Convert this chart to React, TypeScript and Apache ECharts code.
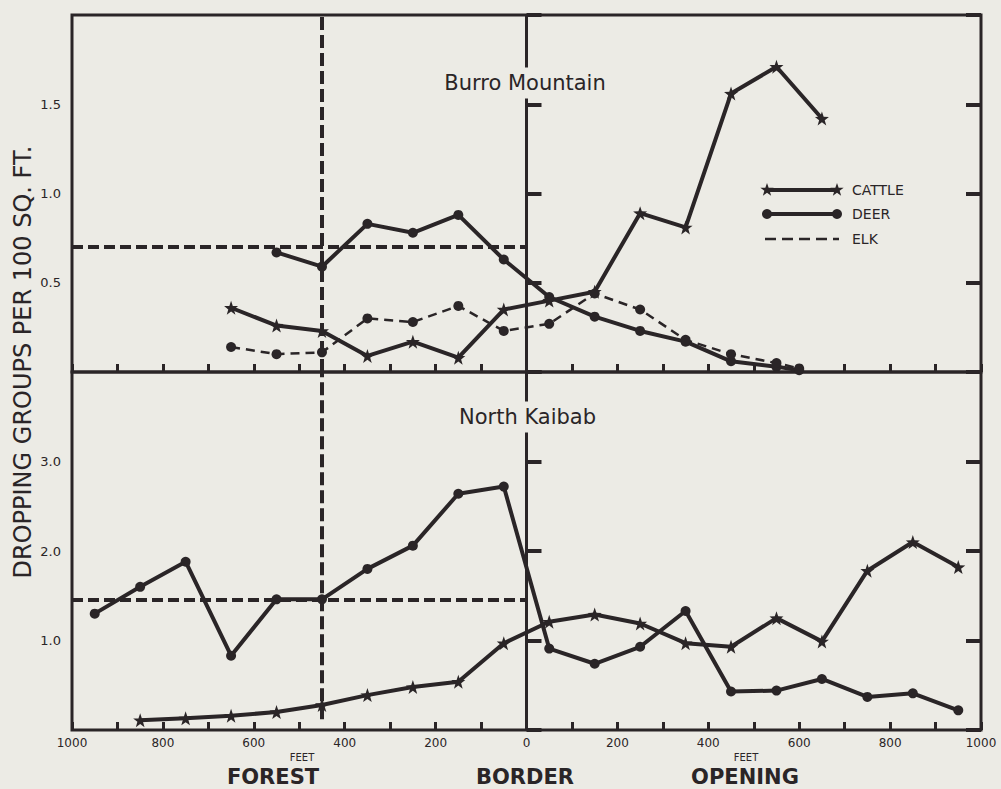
import React, { useEffect, useRef } from "react";
import * as echarts from "echarts";

// ---- data (feet from border: negative = forest, positive = opening) ----
const topCattleX = [-650, -550, -450, -350, -250, -150, -50, 50, 150, 250, 350, 450, 550, 650];
const topCattleY = [0.36, 0.26, 0.23, 0.09, 0.17, 0.08, 0.35, 0.4, 0.45, 0.89, 0.81, 1.56, 1.71, 1.42];

const topDeerX = [-550, -450, -350, -250, -150, -50, 50, 150, 250, 350, 450, 550, 600];
const topDeerY = [0.67, 0.59, 0.83, 0.78, 0.88, 0.63, 0.42, 0.31, 0.23, 0.17, 0.06, 0.03, 0.01];

const topElkX = [-650, -550, -450, -350, -250, -150, -50, 50, 150, 250, 350, 450, 550, 600];
const topElkY = [0.14, 0.1, 0.11, 0.3, 0.28, 0.37, 0.23, 0.27, 0.44, 0.35, 0.18, 0.1, 0.05, 0.02];

const botDeerX = [-950, -850, -750, -650, -550, -450, -350, -250, -150, -50, 50, 150, 250, 350, 450, 550, 650, 750, 850, 950];
const botDeerY = [1.3, 1.6, 1.88, 0.83, 1.46, 1.46, 1.8, 2.06, 2.64, 2.72, 0.91, 0.74, 0.93, 1.33, 0.43, 0.44, 0.57, 0.37, 0.41, 0.22];

const botCattleX = [-850, -750, -650, -550, -450, -350, -250, -150, -50, 50, 150, 250, 350, 450, 550, 650, 750, 850, 950];
const botCattleY = [0.11, 0.13, 0.16, 0.2, 0.28, 0.39, 0.48, 0.54, 0.97, 1.21, 1.29, 1.19, 0.97, 0.93, 1.25, 0.99, 1.78, 2.1, 1.82];

const borderX = 0;
const forestEdgeX = -450;
const forestMeanTop = 0.7;
const forestMeanBottom = 1.45;
const forestEdgeBottomEnd = 0.12;

const xTickLabels = ["1000", "800", "600", "400", "200", "0", "200", "400", "600", "800", "1000"];
const topYLabels = ["0.5", "1.0", "1.5"];
const botYLabels = ["1.0", "2.0", "3.0"];

const INK = "#2a2527";
const BG = "#ecebe5";
const STAR =
  "path://M100 0 L123.5 67.6 L195.1 69.1 L138 112.4 L158.8 180.9 L100 140 L41.2 180.9 L62 112.4 L4.9 69.1 L76.5 67.6 Z";

const zip = (xs: number[], ys: number[]) => xs.map((x, i) => [x, ys[i]]);

function starPoints(cx: number, cy: number, r: number) {
  const pts: number[][] = [];
  for (let k = 0; k < 10; k++) {
    const a = -Math.PI / 2 + (k * Math.PI) / 5;
    const rr = k % 2 === 0 ? r : r * 0.4;
    pts.push([cx + rr * Math.cos(a), cy + rr * Math.sin(a)]);
  }
  return pts;
}

export default function App() {
  const ref = useRef<HTMLDivElement>(null);
  useEffect(() => {
    document.body.style.margin = "0";
    document.body.style.background = BG;
    const chart = echarts.init(ref.current!, null, { renderer: "svg" });

    const xFmt = (v: number) => {
      if (Math.round(v) % 200 !== 0) return "";
      const idx = Math.round((v + 1000) / 200);
      return xTickLabels[idx] ?? "";
    };
    const yFmt = (labels: string[], step: number) => (v: number) => {
      const i = Math.round(v / step) - 1;
      return i >= 0 && i < labels.length && Math.abs(v / step - Math.round(v / step)) < 1e-6 ? labels[i] : "";
    };

    const xBase = (gi: number, showLabels: boolean) => ({
      type: "value",
      gridIndex: gi,
      min: -1000,
      max: 1000,
      interval: 100,
      axisLine: { show: false },
      splitLine: { show: false },
      axisTick: { show: true, inside: true, length: 8, lineStyle: { color: INK, width: 3 } },
      axisLabel: {
        show: showLabels,
        formatter: xFmt,
        color: INK,
        fontFamily: "DejaVu Sans",
        fontSize: 12,
        margin: 7,
        showMinLabel: true,
        showMaxLabel: true,
      },
    });
    const yBase = (gi: number, max: number, interval: number, pos: string, labels: string[] | null) => ({
      type: "value",
      gridIndex: gi,
      position: pos,
      min: 0,
      max,
      interval,
      axisLine: { show: false },
      splitLine: { show: false },
      axisTick: { show: true, inside: true, length: 15, lineStyle: { color: INK, width: 4 } },
      axisLabel: {
        show: !!labels,
        formatter: labels ? yFmt(labels, interval) : undefined,
        color: INK,
        fontFamily: "DejaVu Sans",
        fontSize: 13,
        margin: 11,
      },
    });

    const solid = (w: number) => ({ color: INK, width: w, type: "solid" });

    const markLines = (meanY: number, edgeFrom: number | null) => ({
      silent: true,
      symbol: ["none", "none"],
      label: { show: false },
      lineStyle: { color: INK, width: 3, type: "solid" },
      data: [
        { xAxis: borderX, lineStyle: { color: INK, width: 3, type: "solid" } },
        edgeFrom === null
          ? { xAxis: forestEdgeX, lineStyle: { color: INK, width: 4, type: [13, 5] } }
          : [
              { coord: [forestEdgeX, edgeFrom], lineStyle: { color: INK, width: 4, type: [13, 5] } },
              { coord: [forestEdgeX, 4] },
            ],
        [
          { coord: [-1000, meanY], lineStyle: { color: INK, width: 4, type: [11, 5] } },
          { coord: [borderX, meanY] },
        ],
      ],
    });

    const legendX0 = 767;
    const legendX1 = 837;
    const legendRows = [190, 214, 239];

    chart.setOption({
      animation: false,
      backgroundColor: BG,
      grid: [
        { left: 72, right: 20, top: 15, height: 357, show: true, borderColor: INK, borderWidth: 3, backgroundColor: "transparent" },
        { left: 72, right: 20, top: 372, height: 358, show: true, borderColor: INK, borderWidth: 3, backgroundColor: "transparent" },
      ],
      xAxis: [xBase(0, false), xBase(1, true)],
      yAxis: [
        yBase(0, 2, 0.5, "left", topYLabels),
        yBase(0, 2, 0.5, "right", null),
        yBase(1, 4, 1, "left", botYLabels),
        yBase(1, 4, 1, "right", null),
      ],
      series: [
        {
          name: "Burro deer",
          type: "line",
          xAxisIndex: 0,
          yAxisIndex: 0,
          data: zip(topDeerX, topDeerY),
          symbol: "circle",
          symbolSize: 10,
          lineStyle: solid(4),
          itemStyle: { color: INK },
          markLine: markLines(forestMeanTop, null),
          z: 3,
        },
        {
          name: "Burro cattle",
          type: "line",
          xAxisIndex: 0,
          yAxisIndex: 0,
          data: zip(topCattleX, topCattleY),
          symbol: STAR,
          symbolSize: 14,
          lineStyle: solid(4),
          itemStyle: { color: INK },
          z: 3,
        },
        {
          name: "Burro elk",
          type: "line",
          xAxisIndex: 0,
          yAxisIndex: 0,
          data: zip(topElkX, topElkY),
          symbol: "circle",
          symbolSize: 10,
          lineStyle: { color: INK, width: 2.5, type: [9, 6] },
          itemStyle: { color: INK },
          z: 3,
        },
        {
          name: "Kaibab deer",
          type: "line",
          xAxisIndex: 1,
          yAxisIndex: 2,
          data: zip(botDeerX, botDeerY),
          symbol: "circle",
          symbolSize: 10,
          lineStyle: solid(4),
          itemStyle: { color: INK },
          markLine: markLines(forestMeanBottom, forestEdgeBottomEnd),
          z: 3,
        },
        {
          name: "Kaibab cattle",
          type: "line",
          xAxisIndex: 1,
          yAxisIndex: 2,
          data: zip(botCattleX, botCattleY),
          symbol: STAR,
          symbolSize: 14,
          lineStyle: solid(4),
          itemStyle: { color: INK },
          z: 3,
        },
      ],
      graphic: [
        {
          type: "text",
          z: 50,
          x: 525,
          y: 83,
          style: {
            text: "Burro Mountain",
            align: "center",
            verticalAlign: "middle",
            font: "21px 'DejaVu Sans'",
            fill: INK,
            backgroundColor: BG,
            padding: [5, 2],
          },
        },
        {
          type: "text",
          z: 50,
          x: 459,
          y: 417,
          style: {
            text: "North Kaibab",
            align: "left",
            verticalAlign: "middle",
            font: "21px 'DejaVu Sans'",
            fill: INK,
            backgroundColor: BG,
            padding: [5, 0],
          },
        },
        {
          type: "text",
          z: 50,
          x: 23,
          y: 362,
          rotation: Math.PI / 2,
          style: {
            text: "DROPPING GROUPS PER 100 SQ. FT.",
            align: "center",
            verticalAlign: "middle",
            font: "24px 'DejaVu Sans'",
            fill: INK,
          },
        },
        { type: "text", z: 50, x: 302, y: 757, style: { text: "FEET", align: "center", verticalAlign: "middle", font: "10px 'DejaVu Sans'", fill: INK } },
        { type: "text", z: 50, x: 746, y: 757, style: { text: "FEET", align: "center", verticalAlign: "middle", font: "10px 'DejaVu Sans'", fill: INK } },
        { type: "text", z: 50, x: 273, y: 777, style: { text: "FOREST", align: "center", verticalAlign: "middle", font: "bold 21px 'DejaVu Sans'", fill: INK } },
        { type: "text", z: 50, x: 525, y: 777, style: { text: "BORDER", align: "center", verticalAlign: "middle", font: "bold 21px 'DejaVu Sans'", fill: INK } },
        { type: "text", z: 50, x: 745, y: 777, style: { text: "OPENING", align: "center", verticalAlign: "middle", font: "bold 21px 'DejaVu Sans'", fill: INK } },
        // legend
        { type: "line", z: 50, shape: { x1: legendX0, y1: legendRows[0], x2: legendX1, y2: legendRows[0] }, style: { stroke: INK, lineWidth: 4 } },
        { type: "polygon", z: 51, shape: { points: starPoints(legendX0, legendRows[0], 7) }, style: { fill: INK } },
        { type: "polygon", z: 51, shape: { points: starPoints(legendX1, legendRows[0], 7) }, style: { fill: INK } },
        { type: "line", z: 50, shape: { x1: legendX0, y1: legendRows[1], x2: legendX1, y2: legendRows[1] }, style: { stroke: INK, lineWidth: 4 } },
        { type: "circle", z: 51, shape: { cx: legendX0, cy: legendRows[1], r: 5 }, style: { fill: INK } },
        { type: "circle", z: 51, shape: { cx: legendX1, cy: legendRows[1], r: 5 }, style: { fill: INK } },
        { type: "line", z: 50, shape: { x1: legendX0 - 2, y1: legendRows[2], x2: legendX1 + 2, y2: legendRows[2] }, style: { stroke: INK, lineWidth: 2.5, lineDash: [11, 6] } },
        { type: "text", z: 50, x: 852, y: legendRows[0], style: { text: "CATTLE", verticalAlign: "middle", font: "14px 'DejaVu Sans'", fill: INK } },
        { type: "text", z: 50, x: 852, y: legendRows[1], style: { text: "DEER", verticalAlign: "middle", font: "14px 'DejaVu Sans'", fill: INK } },
        { type: "text", z: 50, x: 852, y: legendRows[2], style: { text: "ELK", verticalAlign: "middle", font: "14px 'DejaVu Sans'", fill: INK } },
      ],
    });
    return () => chart.dispose();
  }, []);

  return (
    <div
      ref={ref}
      style={{ position: "absolute", left: 0, top: 0, width: 1001, height: 789, background: BG }}
    />
  );
}
